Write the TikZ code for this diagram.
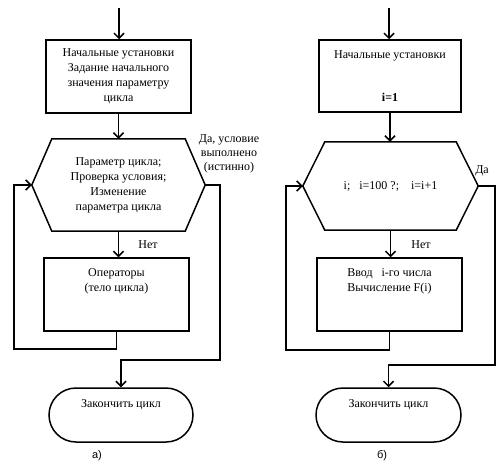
\documentclass[tikz,border=0pt]{standalone}
\usepackage{fontspec}
\setmainfont{Liberation Serif}
\newfontfamily\lettres{Liberation Sans}
\usetikzlibrary{shapes.misc,arrows.meta,positioning}

\tikzset{
	bloc/.style={draw, line width=1.5pt, inner sep=0pt, align=center},
	hexa/.style={inner sep=0pt, align=center},
	fin/.style={draw, rounded rectangle, line width=1.5pt, inner sep=0pt, minimum height=54pt, align=center},
	fleche/.style={line width=1.5pt, -{Straight Barb[length=5pt,width=10pt]}},
}

\begin{document}
\begin{tikzpicture}[x=1pt, y=-1pt, font=\fontsize{12}{15}\selectfont]
	\useasboundingbox (0,0) rectangle (500,463);
	% a)
	\coordinate (entreeA) at (119,8);
	\node[bloc, minimum width=145pt, minimum height=73pt] (initA) at (118.5,76.5)
		{Начальные установки\\Задание начального\\значения параметру\\цикла};
	\node[hexa, minimum width=173pt, minimum height=92pt] (paramA) at (118.5,185)
		{Параметр цикла;\\Проверка условия;\\Изменение\\параметра цикла};
	\draw[line width=1.5pt] (paramA.west) -- ([xshift=20pt]paramA.north west) -- ([xshift=-20pt]paramA.north east)
		-- (paramA.east) -- ([xshift=-20pt]paramA.south east) -- ([xshift=20pt]paramA.south west) -- cycle;
	\node[bloc, minimum width=145pt, minimum height=73pt] (corpsA) at (116.5,294.5)
		{Операторы\\(тело цикла)\\[14pt]\mbox{}};
	\node[fin, minimum width=144pt] (finA) at (121,415) {Закончить цикл\\[8pt]\mbox{}};
	\coordinate (retourA) at (14,349);
	\coordinate (sortieA) at (220,360);
	\draw[fleche] (entreeA) -- (entreeA |- initA.north);
	\draw[fleche] (initA) -- (paramA);
	\draw[fleche] (paramA.south) -- (paramA.south |- corpsA.north);
	\draw[fleche] (corpsA.south) |- (retourA) |- (paramA.west);
	\draw[fleche] (paramA.east) -| (sortieA) -| (finA.north);
	% b)
	\coordinate (entreeB) at (389,8);
	\node[bloc, minimum width=142pt, minimum height=72pt] (initB) at (390,76)
		{Начальные установки\\[28pt]\textbf{i=1}};
	\node[hexa, minimum width=175pt, minimum height=88pt] (paramB) at (390.5,186)
		{i;\enspace\ i=100 ?;\enspace\ \ i=i+1};
	\draw[line width=1.5pt] (paramB.west) -- ([xshift=22pt]paramB.north west) -- ([xshift=-22pt]paramB.north east)
		-- (paramB.east) -- ([xshift=-22pt]paramB.south east) -- ([xshift=22pt]paramB.south west) -- cycle;
	\node[bloc, minimum width=145pt, minimum height=73pt] (corpsB) at (389.5,294.5)
		{Ввод\enspace\ i-го числа\\Вычисление F(i)\\[14pt]\mbox{}};
	\node[fin, minimum width=145pt] (finB) at (388.5,415) {Закончить цикл\\[8pt]\mbox{}};
	\coordinate (retourB) at (286,350);
	\coordinate (sortieB) at (495,365);
	\draw[fleche] (entreeB) -- (entreeB |- initB.north);
	\draw[fleche] (initB.south) -- (initB.south |- paramB.north);
	\draw[fleche] (paramB.south) -- (paramB.south |- corpsB.north);
	\draw[fleche] (corpsB.south) |- (retourB) |- (paramB.west);
	\draw[fleche] (paramB.east) -| (sortieB) -| (finB.north);
	%étiquettes
	\node[align=center, font=\fontsize{12}{14}\selectfont] (ouiA) at (229,154) {Да, условие\\выполнено\\(истинно)};
	\node (nonA) at (148,245) {Нет};
	\node (ouiB) at (482,171) {Да};
	\node (nonB) at (421,245) {Нет};
	\node[font=\lettres\fontsize{11}{13}\selectfont] (legA) at (97,456) {а)};
	\node[font=\lettres\fontsize{11}{13}\selectfont] (legB) at (382,456) {б)};
\end{tikzpicture}
\end{document}
